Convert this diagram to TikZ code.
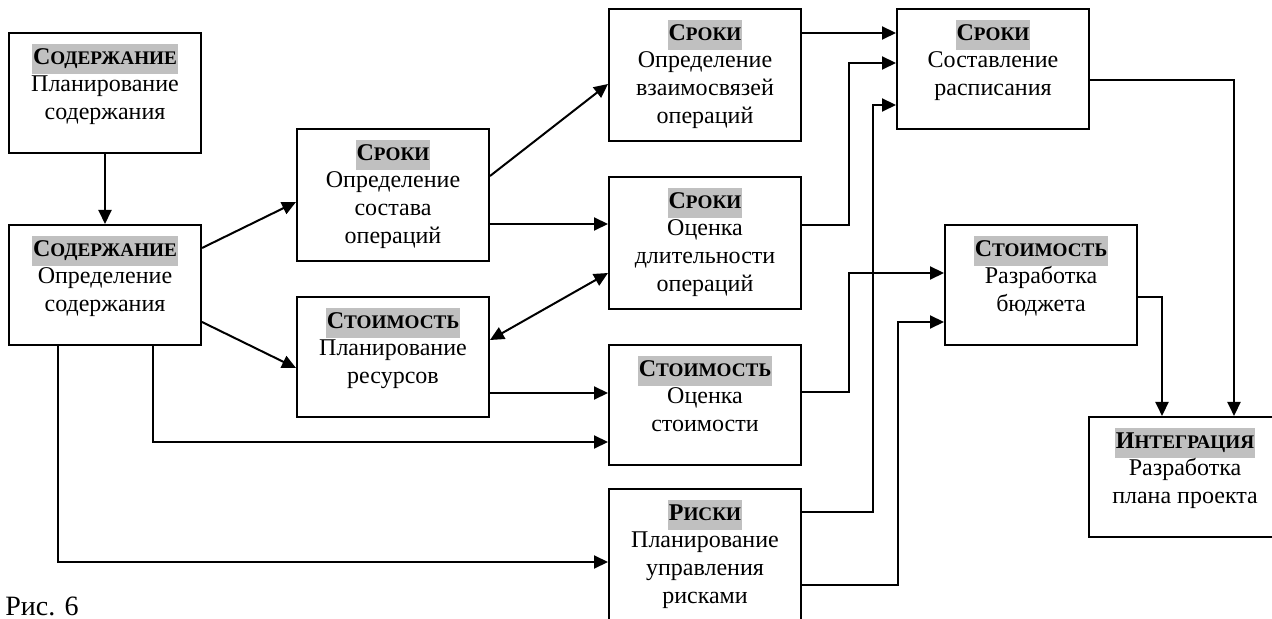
\documentclass[tikz,border=0pt]{standalone}
\usepackage{fontspec}
\setmainfont{Liberation Serif}
\usetikzlibrary{arrows.meta}
\definecolor{hlgray}{HTML}{C0C0C0}
\setlength{\fboxsep}{0.5pt}
% header on grey ground, small caps made by hand
\newcommand{\hdr}[2]{\colorbox{hlgray}{\strut\textbf{#1\fontsize{9.6}{13.8}\selectfont #2}}}
% text block of a box, fixed height, set from the top
\newcommand{\blk}[2]{\parbox[c][#1][t]{90pt}{\centering\fontsize{12}{13.8}\selectfont #2}}
\begin{document}
\begin{tikzpicture}[x=0.5pt,y=-0.5pt,
        box/.style={draw,line width=1pt,inner xsep=3pt,inner ysep=5.5pt},
        arr/.style={line width=1pt,-{Triangle[length=7pt,width=6.5pt]}},
        arrtwo/.style={line width=1pt,{Triangle[length=7pt,width=6.5pt]}-{Triangle[length=7pt,width=6.5pt]}}]
                \useasboundingbox (0,0) rectangle (1272,619);

                \node[box] (scopePlan) at (105,93) {\blk{49pt}{\hdr{С}{ОДЕРЖАНИЕ}\\Планирование\\содержания}};
                \node[box] (scopeDef) at (105,285) {\blk{49pt}{\hdr{С}{ОДЕРЖАНИЕ}\\Определение\\содержания}};
                \node[box] (actDef) at (393,195) {\blk{55pt}{\hdr{С}{РОКИ}\\Определение\\состава\\операций}};
                \node[box] (resPlan) at (393,357) {\blk{49pt}{\hdr{С}{ТОИМОСТЬ}\\Планирование\\ресурсов}};
                \node[box] (actSeq) at (705,75) {\blk{55pt}{\hdr{С}{РОКИ}\\Определение\\взаимосвязей\\операций}};
                \node[box] (actDur) at (705,243) {\blk{55pt}{\hdr{С}{РОКИ}\\Оценка\\длительности\\операций}};
                \node[box] (costEst) at (705,405) {\blk{49pt}{\hdr{С}{ТОИМОСТЬ}\\Оценка\\стоимости}};
                \node[box] (riskPlan) at (705,557) {\blk{57pt}{\hdr{Р}{ИСКИ}\\Планирование\\управления\\рисками}};
                \node[box] (schedule) at (993,69) {\blk{49pt}{\hdr{С}{РОКИ}\\Составление\\расписания}};
                \node[box] (budget) at (1041,285) {\blk{49pt}{\hdr{С}{ТОИМОСТЬ}\\Разработка\\бюджета}};
                \node[box] (projPlan) at (1185,477) {\blk{49pt}{\hdr{И}{НТЕГРАЦИЯ}\\Разработка\\плана проекта}};

                \draw[arr] (scopePlan) -- (scopeDef);
                \draw[arr] (scopeDef.east |- 0,248) -- (actDef.west |- 0,202);
                \draw[arr] (scopeDef.east |- 0,322) -- (resPlan.west |- 0,368);
                \draw[arr] (actDef.east |- 0,176) -- (actSeq.west |- 0,84);
                \draw[arr] (actDef.east |- 0,224) -- (actDur.west |- 0,224);
                \draw[arrtwo] (resPlan.east |- 0,340) -- (actDur.west |- 0,273);
                \draw[arr] (resPlan.east |- 0,393) -- (costEst.west |- 0,393);
                \draw[arr] (scopeDef.south -| 153,0) |- (costEst.west |- 0,442);
                \draw[arr] (scopeDef.south -| 58,0) |- (riskPlan.west |- 0,562);

                \draw[arr] (actSeq.east |- 0,33) -- (schedule.west |- 0,33);
                \draw[arr] (actDur.east |- 0,225) -| (849,63) -- (schedule.west |- 0,63);
                \draw[arr] (riskPlan.east |- 0,512) -| (873,105) -- (schedule.west |- 0,105);
                \draw[arr] (costEst.east |- 0,392) -| (849,273) -- (budget.west |- 0,273);
                \draw[arr] (riskPlan.east |- 0,585) -| (898,322) -- (budget.west |- 0,322);
                \draw[arr] (schedule.east |- 0,80) -| (projPlan.north -| 1234,0);
                \draw[arr] (budget.east |- 0,297) -| (projPlan.north -| 1162,0);

                \node[anchor=base west,inner sep=0pt,font=\fontsize{14}{16}\selectfont] (figCap) at (5,615) {Рис. 6};
            \end{tikzpicture}
\end{document}
